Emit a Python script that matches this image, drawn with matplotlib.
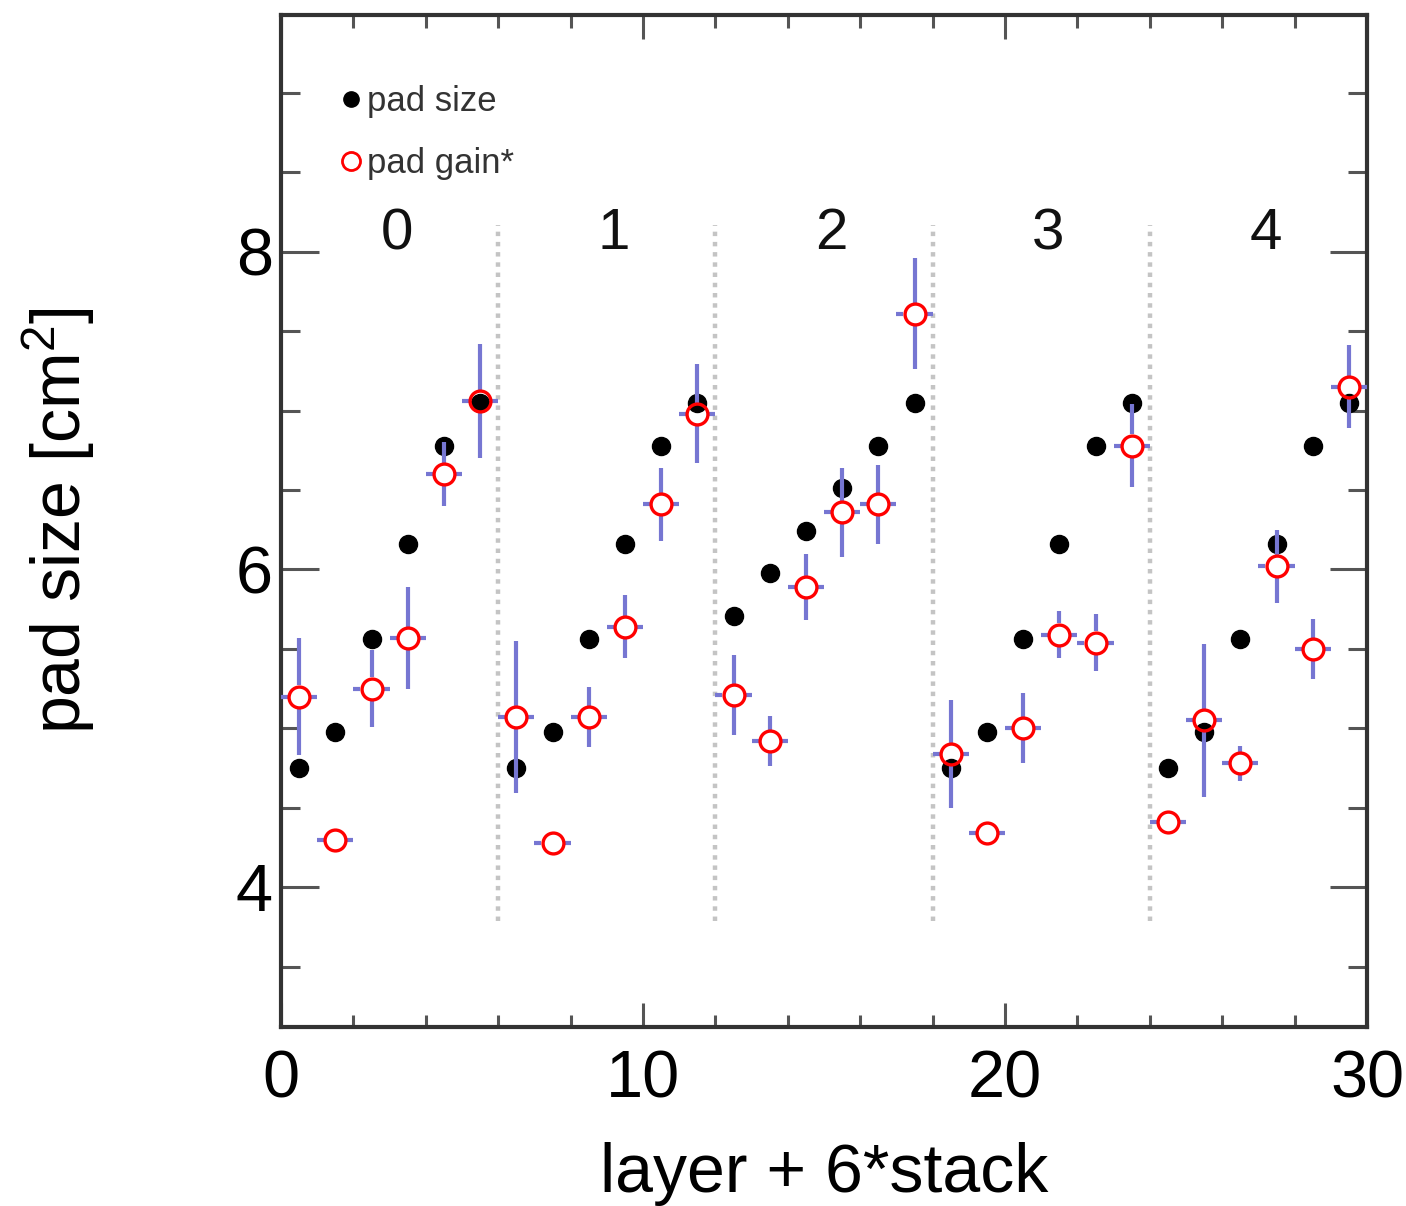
import matplotlib
matplotlib.use("Agg")
import matplotlib.pyplot as plt
from matplotlib.lines import Line2D
import numpy as np

plt.rcParams['font.family'] = ['Liberation Sans', 'DejaVu Sans']
plt.rcParams['mathtext.fontset'] = 'custom'
plt.rcParams['mathtext.rm'] = 'Liberation Sans'
plt.rcParams['mathtext.it'] = 'Liberation Sans:italic'

# layer + 6*stack (bin centres)
layer_x = np.arange(30) + 0.5

# pad size per chamber [cm^2]
pad_size = [4.75, 4.98, 5.56, 6.16, 6.78, 7.05,
            4.75, 4.98, 5.56, 6.16, 6.78, 7.05,
            5.71, 5.98, 6.24, 6.51, 6.78, 7.05,
            4.75, 4.98, 5.56, 6.16, 6.78, 7.05,
            4.75, 4.98, 5.56, 6.16, 6.78, 7.05]

# pad gain (scaled) and its spread
pad_gain = [5.20, 4.30, 5.25, 5.57, 6.60, 7.06,
            5.07, 4.28, 5.07, 5.64, 6.41, 6.98,
            5.21, 4.92, 5.89, 6.36, 6.41, 7.61,
            4.84, 4.34, 5.00, 5.59, 5.54, 6.78,
            4.41, 5.05, 4.78, 6.02, 5.50, 7.15]
gain_err = [0.37, 0.06, 0.24, 0.32, 0.20, 0.36,
            0.48, 0.04, 0.19, 0.20, 0.23, 0.31,
            0.25, 0.16, 0.21, 0.28, 0.25, 0.35,
            0.34, 0.07, 0.22, 0.15, 0.18, 0.26,
            0.03, 0.48, 0.11, 0.23, 0.19, 0.26]
bin_half = 0.5

stack_edges = [6, 12, 18, 24]
stack_labels = ['0', '1', '2', '3', '4']
stack_label_x = [3.2, 9.2, 15.2, 21.2, 27.2]

fig = plt.figure(figsize=(14.06, 12.06), dpi=100)
ax = fig.add_axes([0.1999, 0.1484, 0.7724, 0.8392])

x = np.array(layer_x)
g = np.array(pad_gain)
e = np.array(gain_err)

# black pad size points
ax.plot(x, pad_size, 'o', color='black', ms=13, zorder=2)

# error bars with a gap around the open marker (ROOT style)
gap_y = 0.07
gap_x = 0.31
bar_col = '#7676d2'
up = np.maximum(g + e, g + gap_y)
dn = np.minimum(g - e, g - gap_y)
ax.vlines(x, g + gap_y, up, color=bar_col, lw=3, zorder=3)
ax.vlines(x, dn, g - gap_y, color=bar_col, lw=3, zorder=3)
ax.hlines(g, x - bin_half, x - gap_x, color=bar_col, lw=3, zorder=3)
ax.hlines(g, x + gap_x, x + bin_half, color=bar_col, lw=3, zorder=3)

ax.plot(x, g, 'o', mfc='none', mec='red', mew=2.4, ms=15, zorder=4)

for s in stack_edges:
    ax.plot([s, s], [3.79, 8.17], ls=(0, (1.0, 1.3)), color='#c4c4c4', lw=3.2, zorder=1)

for lx, lab in zip(stack_label_x, stack_labels):
    ax.text(lx, 8.11, lab, fontsize=42, ha='center', va='center', color='#111111')

ax.set_xlim(0, 30)
ax.set_ylim(3.12, 9.49)
ax.set_xticks([0, 10, 20, 30])
ax.set_xticks(np.arange(0, 31, 2), minor=True)
ax.set_yticks([4, 6, 8])
ax.set_yticks(np.arange(3.5, 9.5, 0.5), minor=True)

ax.tick_params(which='both', direction='in', top=True, right=True,
               color='#555555', width=2.2, labelsize=48)
ax.tick_params(axis='y', which='major', length=27, pad=6)
ax.tick_params(axis='y', which='minor', length=14)
ax.tick_params(axis='x', which='major', length=17, pad=16)
ax.tick_params(axis='x', which='minor', length=9)
for sp in ax.spines.values():
    sp.set_linewidth(3)
    sp.set_color('#333333')

ax.set_xlabel('layer + 6*stack', fontsize=49, labelpad=22)
ax.set_ylabel('pad size [cm$^2$]', fontsize=49, labelpad=100)

handles = [Line2D([], [], ls='none', marker='o', color='black', ms=11),
           Line2D([], [], ls='none', marker='o', mfc='none', mec='red', mew=2, ms=13)]
ax.legend(handles, ['pad size', 'pad gain*'], loc='upper left',
          bbox_to_anchor=(0.023, 0.962), frameon=False, fontsize=25,
          handlelength=0.8, handletextpad=0.05, labelspacing=0.85,
          labelcolor='#333333')

fig.savefig('out.png', dpi=100)
